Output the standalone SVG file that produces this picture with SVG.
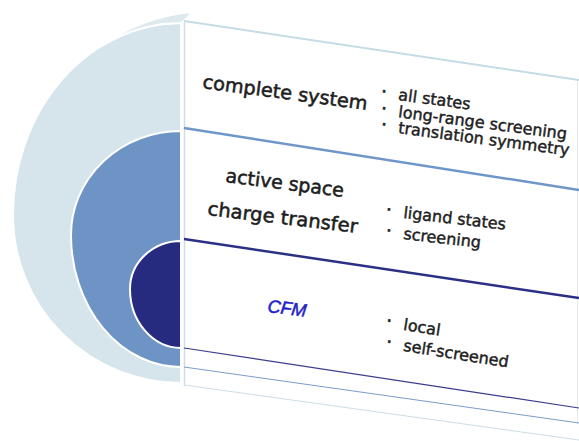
<svg xmlns="http://www.w3.org/2000/svg" width="579" height="441" viewBox="0 0 579 441">
  <style>
    .disk { stroke: #ffffff; stroke-width: 2; stroke-linejoin: round; }
    .lbl { font-family: "DejaVu Sans", "Liberation Sans", sans-serif; font-size: 19px; fill: #1e1e1e; stroke: #1e1e1e; stroke-width: 0.55; }
    .bul { font-family: "DejaVu Sans", "Liberation Sans", sans-serif; font-size: 16px; fill: #1e1e1e; stroke: #1e1e1e; stroke-width: 0.45; }
    .dot { font-size: 20px; }
    .cfm { font-family: "Liberation Sans", Arial, sans-serif; font-size: 18px; font-style: italic; fill: #1f22c8; stroke: #1f22c8; stroke-width: 0.5; }
    .sep { fill: none; stroke-linecap: butt; }
  </style>
  <rect width="579" height="441" fill="#ffffff"/>

  <g id="disk-outer">
    <path class="disk" fill="#d5e5eb" d="M181,23 A168,192 0 0 0 13,215 A168,168 0 0 0 181,383 Z"/>
    <path class="disk" fill="#dde9ee" d="M193,12 L183,22 L181,23 A168,192 0 0 0 100,47 C125,28 160,14 193,12 Z"/>
  </g>
  <g id="disk-middle">
    <path class="disk" fill="#6e94c6" d="M181,131 A110,104 0 0 0 71,235 A110,132 0 0 0 181,367 Z"/>
  </g>
  <g id="disk-inner">
    <path class="disk" fill="#262b80" d="M181,241 A51,48 0 0 0 130,289 A51,59 0 0 0 181,348 Z"/>
  </g>

  <g id="panel-lines" class="sep">
    <line x1="184.5" y1="22" x2="184.5" y2="386" stroke="#cfdde5" stroke-width="1.5"/>
    <line x1="577.5" y1="80" x2="577.5" y2="424" stroke="#e4ebf0" stroke-width="1"/>
    <line x1="184" y1="21" x2="579" y2="80" stroke="#c5dbe5" stroke-width="2"/>
    <line x1="184" y1="128" x2="579" y2="190" stroke="#6f96c8" stroke-width="2.5"/>
    <line x1="184" y1="239" x2="579" y2="298" stroke="#2b2f85" stroke-width="2.5"/>
    <line x1="184" y1="348" x2="579" y2="408" stroke="#3a3d8c" stroke-width="1.2"/>
    <line x1="184" y1="367" x2="579" y2="423" stroke="#7a9ccb" stroke-width="1"/>
    <line x1="184" y1="385" x2="579" y2="440" stroke="#cddde6" stroke-width="1"/>
  </g>

  <g id="band-complete">
    <text class="lbl" transform="translate(202,88) rotate(7.6)" textLength="166" lengthAdjust="spacingAndGlyphs">complete system</text>
    <text class="bul" transform="translate(380,97.7) rotate(7.5)"><tspan class="dot">·</tspan><tspan x="18">all states</tspan></text>
    <text class="bul" transform="translate(380,114.7) rotate(7.5)"><tspan class="dot">·</tspan><tspan x="18">long-range screening</tspan></text>
    <text class="bul" transform="translate(380,130.7) rotate(7.5)"><tspan class="dot">·</tspan><tspan x="18">translation symmetry</tspan></text>
  </g>

  <g id="band-active">
    <text class="lbl" transform="translate(225,182) rotate(7.2)" textLength="119" lengthAdjust="spacingAndGlyphs">active space</text>
    <text class="lbl" transform="translate(207,215) rotate(6.8)" textLength="151" lengthAdjust="spacingAndGlyphs">charge transfer</text>
    <text class="bul" transform="translate(385,216) rotate(6.5)"><tspan class="dot">·</tspan><tspan x="18">ligand states</tspan></text>
    <text class="bul" transform="translate(385,237) rotate(6.5)"><tspan class="dot">·</tspan><tspan x="18">screening</tspan></text>
  </g>

  <g id="band-cfm">
    <text class="cfm" transform="translate(267,312) rotate(7)">CFM</text>
    <text class="bul" transform="translate(385,327) rotate(9)"><tspan class="dot">·</tspan><tspan x="18">local</tspan></text>
    <text class="bul" transform="translate(385,348) rotate(9)"><tspan class="dot">·</tspan><tspan x="18">self-screened</tspan></text>
  </g>
</svg>
